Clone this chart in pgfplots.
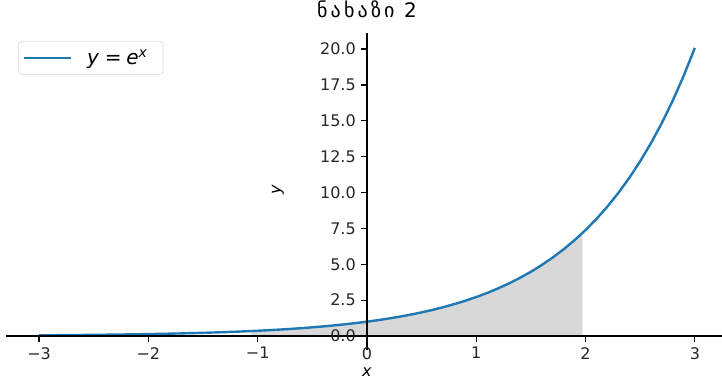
\documentclass[border=0pt]{standalone}
\usepackage{pgfplots}
\pgfplotsset{compat=1.18}
\usepackage{fontspec}
\setmainfont{DejaVu Sans}
\newfontfamily\geofont[LetterSpace=16]{DejaVu Sans}
\definecolor{mplblue}{HTML}{1F77B4}
\definecolor{fillgray}{RGB}{216,216,216}
\pgfplotstableread{
x y
-3.0 0.0498
-2.9 0.0550
-2.8 0.0608
-2.7 0.0672
-2.6 0.0743
-2.5 0.0821
-2.4 0.0907
-2.3 0.1003
-2.2 0.1108
-2.1 0.1225
-2.0 0.1353
-1.9 0.1496
-1.8 0.1653
-1.7 0.1827
-1.6 0.2019
-1.5 0.2231
-1.4 0.2466
-1.3 0.2725
-1.2 0.3012
-1.1 0.3329
-1.0 0.3679
-0.9 0.4066
-0.8 0.4493
-0.7 0.4966
-0.6 0.5488
-0.5 0.6065
-0.4 0.6703
-0.3 0.7408
-0.2 0.8187
-0.1 0.9048
0.0 1.0000
0.1 1.1052
0.2 1.2214
0.3 1.3499
0.4 1.4918
0.5 1.6487
0.6 1.8221
0.7 2.0138
0.8 2.2255
0.9 2.4596
1.0 2.7183
1.1 3.0042
1.2 3.3201
1.3 3.6693
1.4 4.0552
1.5 4.4817
1.6 4.9530
1.7 5.4739
1.8 6.0496
1.9 6.6859
2.0 7.3891
2.1 8.1662
2.2 9.0250
2.3 9.9742
2.4 11.0232
2.5 12.1825
2.6 13.4637
2.7 14.8797
2.8 16.4446
2.9 18.1741
3.0 20.0855
}\curve
\pgfplotstableread{
x y
-1.06 0
-1.06 0.3465
-1.0 0.3679
-0.9 0.4066
-0.8 0.4493
-0.7 0.4966
-0.6 0.5488
-0.5 0.6065
-0.4 0.6703
-0.3 0.7408
-0.2 0.8187
-0.1 0.9048
0.0 1.0000
0.1 1.1052
0.2 1.2214
0.3 1.3499
0.4 1.4918
0.5 1.6487
0.6 1.8221
0.7 2.0138
0.8 2.2255
0.9 2.4596
1.0 2.7183
1.1 3.0042
1.2 3.3201
1.3 3.6693
1.4 4.0552
1.5 4.4817
1.6 4.9530
1.7 5.4739
1.8 6.0496
1.9 6.6859
1.97 7.1707
1.97 0
}\area
\begin{document}
\begin{tikzpicture}
\useasboundingbox (0,0) rectangle (451.25pt,238.125pt);
\begin{axis}[
  at={(3.94pt,19.6pt)}, anchor=south west,
  width=447.4pt, height=197.6pt, scale only axis,
  xmin=-3.3, xmax=3.25, ymin=-0.95, ymax=21.09,
  axis lines=middle, axis on top,
  axis line style={-, line width=0.8pt, black},
  tick align=outside, major tick length=3.5pt,
  tick style={black, line width=0.8pt},
  hide obscured x ticks=false, hide obscured y ticks=false,
  xtick={-3,-2,-1,0,1,2,3},
  xticklabels={−3,−2,−1,0,1,2,3},
  ytick={0,2.5,5,7.5,10,12.5,15,17.5,20},
  yticklabels={0.0,2.5,5.0,7.5,10.0,12.5,15.0,17.5,20.0},
  ticklabel style={font=\fontsize{10}{12}\selectfont, text=black!85},
  clip=false,
  xlabel={\textit{x}}, ylabel={\textit{y}},
  every axis x label/.style={at={(axis cs:0,-2.51)}, anchor=center, font=\fontsize{10}{12}\selectfont},
  every axis y label/.style={at={(axis cs:-0.814,10.17)}, anchor=center, rotate=90, font=\fontsize{10}{12}\selectfont},
  title={\geofont ნახაზი 2},
  title style={at={(axis cs:0,21.09)}, anchor=base, yshift=4.2pt, font=\fontsize{12.5}{14}\selectfont},
  legend style={at={(0.0163,0.976)}, anchor=north west, draw=black!15, rounded corners=2pt,
    fill=white, font=\fontsize{12.5}{14}\selectfont, inner xsep=3pt, inner ysep=3pt},
  legend cell align=left,
  legend image code/.code={\draw[#1] (0pt,0pt) -- (29pt,0pt);},
]
\addplot[draw=none, fill=fillgray, forget plot] table {\area} -- cycle;
\addplot[mplblue, line width=1.5pt] table {\curve};
\addlegendentry{\hspace{7.5pt}\textit{y}\hspace{3.5pt}=\hspace{3pt}\textit{e}\textsuperscript{\textit{x}}\rule{4.5pt}{0pt}}
\end{axis}
\end{tikzpicture}
\end{document}
